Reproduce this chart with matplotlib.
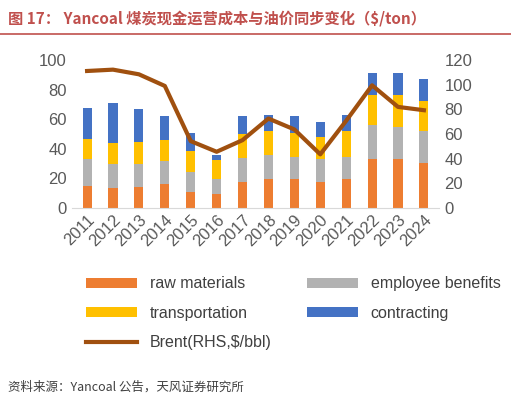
import matplotlib.pyplot as plt
import numpy as np
plt.rcParams['font.family'] = ['Liberation Sans', 'Noto Sans CJK SC', 'DejaVu Sans']

years = [str(y) for y in range(2011, 2025)]
raw = [14.9, 13, 14.2, 16.3, 10.8, 9, 17.2, 19.2, 19.2, 17.2, 19.2, 32.7, 32.7, 30.5]
cum_emp = [32.7, 29.3, 29.3, 31.6, 24.4, 19.2, 33.6, 35.4, 34.5, 32.7, 34.5, 56, 54.9, 51.9]
cum_tr = [46.5, 43.8, 44.7, 45.8, 38.6, 32.5, 49.9, 51.9, 50.8, 47.9, 51.9, 76.3, 76.3, 72.2]
cum_con = [68, 71, 67, 61.9, 50.8, 36, 61.9, 63, 61.9, 58, 63, 91.6, 91.6, 87.4]
brent = [111.4, 112.5, 108.7, 99.2, 54.2, 45.5, 55, 72.6, 63.7, 43.4, 70.8, 99.7, 82.1, 79.4]

emp = np.array(cum_emp) - np.array(raw)
tr = np.array(cum_tr) - np.array(cum_emp)
con = np.array(cum_con) - np.array(cum_tr)

fig = plt.figure(figsize=(5.11, 4.03), dpi=100)
ax = fig.add_axes([0.14, 0.485, 0.72, 0.365])
x = np.arange(len(years))
w = 0.35
c_raw, c_emp, c_tr, c_con = '#ED7D31', '#A5A5A5', '#FFC000', '#4472C4'
b1 = ax.bar(x, raw, w, color=c_raw, label='raw materials')
b2 = ax.bar(x, emp, w, bottom=raw, color=c_emp, label='employee benefits', alpha=0.85)
b3 = ax.bar(x, tr, w, bottom=cum_emp, color=c_tr, label='transportation')
b4 = ax.bar(x, con, w, bottom=cum_tr, color=c_con, label='contracting')
ax.set_ylim(0, 100)
ax.set_yticks(range(0, 101, 20))
ax.set_xlim(-0.6, len(years) - 0.4)
ax.set_xticks(x)
ax.set_xticklabels(years, rotation=45, ha='right', rotation_mode='anchor')
ax2 = ax.twinx()
l1, = ax2.plot(x, brent, color='#A0500F', lw=3, label='Brent(RHS,$/bbl)')
ax2.set_ylim(0, 120)
ax2.set_yticks(range(0, 121, 20))
for a in (ax, ax2):
    for s in a.spines.values():
        s.set_visible(False)
    a.tick_params(length=0, labelsize=12, colors='#595959')
ax.spines['bottom'].set_visible(True)
ax.spines['bottom'].set_color('#D9D9D9')

handles = [b1, b3, l1, b2, b4]
labels = [h.get_label() for h in handles]
fig.legend(handles, labels, loc='upper left', bbox_to_anchor=(0.14, 0.35), ncol=2,
           frameon=False, fontsize=11.5, labelcolor='#404040', handlelength=3.2,
           columnspacing=2.2, handleheight=0.6, labelspacing=0.9)

fig.text(0.015, 0.955, '图 17： Yancoal 煤炭现金运营成本与油价同步变化（$/ton）', fontsize=11,
         color='#C0504D', weight='bold', va='center',
         family=['Noto Sans CJK SC', 'DejaVu Sans'])
fig.add_artist(plt.Line2D([0.0, 1.0], [0.915, 0.915], color='#C0504D', lw=1.2))
fig.text(0.015, 0.03, '资料来源：Yancoal 公告，天风证券研究所', fontsize=9, color='#404040',
         family=['Noto Sans CJK SC', 'DejaVu Sans'])
fig.savefig('out.png')
